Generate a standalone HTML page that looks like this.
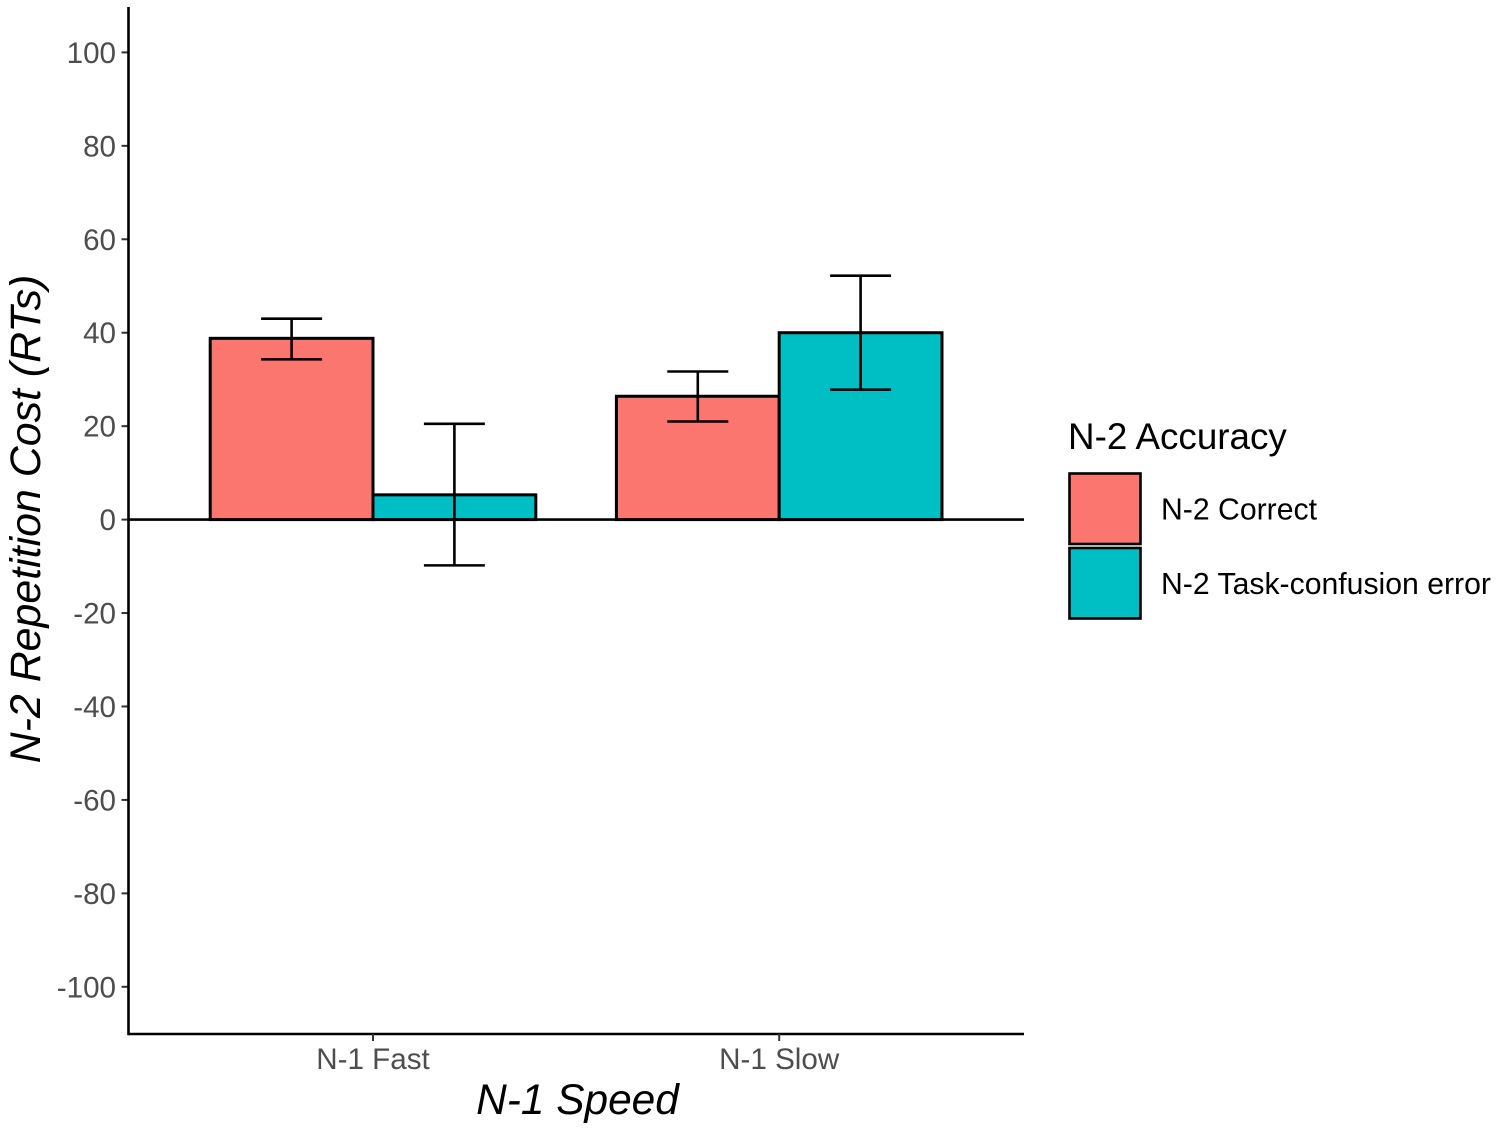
<!DOCTYPE html>
<html>
<head>
<meta charset="utf-8">
<title>N-2 Repetition Cost</title>
<style>
html,body{margin:0;padding:0;background:#fff;width:1498px;height:1130px;overflow:hidden}
svg{display:block}
text{font-family:"Liberation Sans",Arial,sans-serif}
</style>
</head>
<body>
<svg id="chart" width="1498" height="1130" viewBox="0 0 1498 1130" xmlns="http://www.w3.org/2000/svg"></svg>
<script>
const categories = ['N-1 Fast', 'N-1 Slow'];
const seriesNames = ['N-2 Correct', 'N-2 Task-confusion error'];
const seriesColors = ['#FA766F', '#00BFC4'];
const correctValues = [38.8, 26.4];
const confusionValues = [5.3, 40];
const correctUpper = [43, 31.7];
const correctLower = [34.3, 21];
const confusionUpper = [20.5, 52.2];
const confusionLower = [-9.8, 27.8];
const yTicks = [100, 80, 60, 40, 20, 0, -20, -40, -60, -80, -100];

const svg = document.getElementById('chart');
const NS = 'http://www.w3.org/2000/svg';
function mk(tag, attrs, parent, txt) {
  const e = document.createElementNS(NS, tag);
  for (const k in attrs) e.setAttribute(k, attrs[k]);
  if (txt !== undefined) e.textContent = txt;
  (parent || svg).appendChild(e);
  return e;
}
const yScale = v => 519.6 - v * 4.672;
const xScale = i => 373 + i * 406.2;
const barWidth = 162.8;
const capHalf = 30.5;
const axisLeft = 128.5, axisBottom = 1034, axisTop = 7, axisRight = 1024;
const series = [
  {values: correctValues, upper: correctUpper, lower: correctLower, key: 'correct', offset: -1},
  {values: confusionValues, upper: confusionUpper, lower: confusionLower, key: 'confusion', offset: 0}
];

// y ticks and labels
yTicks.forEach(t => {
  const y = yScale(t);
  const tick = mk('line', {x1: axisLeft - 7, x2: axisLeft, y1: y, y2: y, stroke: '#333', 'stroke-width': 2});
  
  
  const label = mk('text', {x: 116, y: y + 10.5, 'text-anchor': 'end', 'font-size': 29.6, fill: '#4d4d4d'}, svg, String(t));
  
  
});

// bars
series.forEach(s => {
  s.values.forEach((v, i) => {
    const x = xScale(i) + s.offset * barWidth;
    const top = Math.min(yScale(v), yScale(0));
    const bar = mk('rect', {x: x, y: top, width: barWidth, height: Math.abs(yScale(v) - yScale(0)),
      fill: seriesColors[s.offset + 1], stroke: '#000', 'stroke-width': 3});
    
    
  });
});

// zero line
const zero = mk('line', {x1: axisLeft, x2: axisRight, y1: yScale(0), y2: yScale(0), stroke: '#000', 'stroke-width': 2.6});



// error bars
series.forEach(s => {
  s.values.forEach((v, i) => {
    const cx = xScale(i) + (s.offset + 0.5) * barWidth;
    const g = mk('g', {stroke: '#000', 'stroke-width': 2.6, fill: 'none'});
    
    
    const yu = yScale(s.upper[i]), yl = yScale(s.lower[i]);
    mk('line', {x1: cx, x2: cx, y1: yu, y2: yl}, g);
    mk('line', {x1: cx - capHalf, x2: cx + capHalf, y1: yu, y2: yu}, g);
    mk('line', {x1: cx - capHalf, x2: cx + capHalf, y1: yl, y2: yl}, g);
  });
});

// axes
const yAxis = mk('line', {x1: axisLeft, x2: axisLeft, y1: axisTop, y2: axisBottom + 1.3, stroke: '#000', 'stroke-width': 2.6});


const xAxis = mk('line', {x1: axisLeft, x2: axisRight, y1: axisBottom, y2: axisBottom, stroke: '#000', 'stroke-width': 2.6});



// x ticks and labels
categories.forEach((c, i) => {
  const x = xScale(i);
  const tick = mk('line', {x1: x, x2: x, y1: axisBottom, y2: axisBottom + 7, stroke: '#333', 'stroke-width': 2});
  
  
  const label = mk('text', {x: x, y: 1069, 'text-anchor': 'middle', 'font-size': 29.6, fill: '#4d4d4d'}, svg, c);
  
  
});

// axis titles
const xTitle = mk('text', {x: 577.5, y: 1114, 'text-anchor': 'middle', 'font-size': 42.4, 'font-style': 'italic', fill: '#000'}, svg, 'N-1 Speed');


const yTitle = mk('text', {x: 0, y: 0, transform: 'translate(40,519) rotate(-90)', 'text-anchor': 'middle', 'font-size': 42.9, 'font-style': 'italic', fill: '#000'}, svg, 'N-2 Repetition Cost (RTs)');



// legend
const legendTitle = mk('text', {x: 1068, y: 449, 'font-size': 36.8, fill: '#000'}, svg, 'N-2 Accuracy');


seriesNames.forEach((n, i) => {
  const y = 473.5 + i * 74.5;
  const key = mk('rect', {x: 1069.5, y: y, width: 71, height: 70.5, fill: seriesColors[i], stroke: '#000', 'stroke-width': 2.6});
  
  
  const label = mk('text', {x: 1161, y: y + 46, 'font-size': 30.2, fill: '#000'}, svg, n);
  
  
});
</script>
</body>
</html>
